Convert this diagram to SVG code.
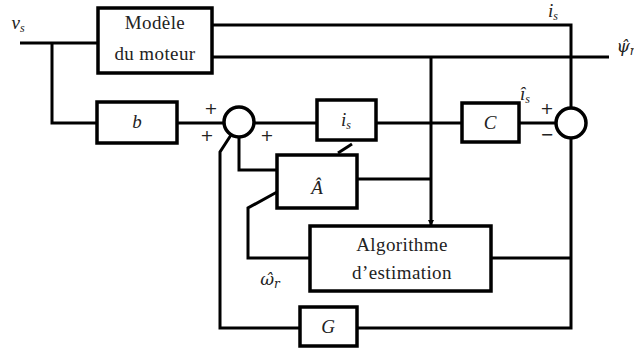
<svg xmlns="http://www.w3.org/2000/svg" width="634" height="352" viewBox="0 0 634 352">
<defs>
<style>
.box{fill:#fff;stroke:#000;stroke-width:3.5}
.ln{fill:none;stroke:#000;stroke-width:3;stroke-linejoin:miter}
text{font-family:'Liberation Serif','Times New Roman','DejaVu Serif',Times,serif;fill:#222;text-anchor:middle}
.t{font-size:19px;letter-spacing:0.4px}
.m{font-style:italic;font-size:19px}
.g{font-family:'DejaVu Serif',serif;font-style:italic;font-size:17px}
.s{font-size:12px}
.sg{font-family:'DejaVu Sans',sans-serif;font-size:16px}
</style>
<marker id="ah" markerWidth="6" markerHeight="6" refX="5" refY="3" orient="auto" markerUnits="userSpaceOnUse">
<path d="M0,0 L6,3 L0,6 z" fill="#000"/>
</marker>
</defs>
<rect width="634" height="352" fill="#fff"/>
<g id="connectors">
<path class="ln" d="M20,43 H98"/>
<path class="ln" d="M52,43 V123 H97"/>
<path class="ln" d="M177,123 H224"/>
<path class="ln" d="M254,123 H317"/>
<path class="ln" d="M376,123 H462"/>
<path class="ln" d="M519,123 H556"/>
<path class="ln" d="M212,25 H571 V108"/>
<path class="ln" d="M212,57 H609"/>
<path class="ln" d="M431,57 V225" marker-end="url(#ah)"/>
<path class="ln" d="M571,138 V328 H357"/>
<path class="ln" d="M491,258 H571"/>
<path class="ln" d="M357,179 H431"/>
<path class="ln" d="M239,137 V170 H277"/>
<path class="ln" d="M300,328 H220 V152 L231,135"/>
<path class="ln" d="M310,258 H248 V208 L277,192"/>
<path class="ln" d="M338,153 L352,144"/>
</g>
<g id="modele">
<rect class="box" x="98" y="8" width="114" height="65"/>
<text class="t" x="155" y="29">Modèle</text>
<text class="t" x="155" y="60">du moteur</text>
</g>
<g id="b">
<rect class="box" x="97" y="102" width="80" height="41"/>
<text class="m" x="137" y="128">b</text>
</g>
<g id="sum1">
<circle cx="239" cy="122" r="15" fill="#fff" stroke="#000" stroke-width="3.5"/>
<text class="sg" x="211" y="114">+</text>
<text class="sg" x="207" y="141">+</text>
<text class="sg" x="267" y="141">+</text>
</g>
<g id="is-box">
<rect class="box" x="317" y="100" width="59" height="40"/>
<text class="m" x="346" y="126">i<tspan class="s" dy="3">s</tspan></text>
</g>
<g id="C">
<rect class="box" x="462" y="103" width="57" height="39"/>
<text class="m" x="490" y="129">C</text>
</g>
<g id="sum2">
<circle cx="571" cy="123" r="15" fill="#fff" stroke="#000" stroke-width="3.5"/>
<text class="sg" x="547" y="114">+</text>
<text class="sg" x="547" y="140">−</text>
</g>
<g id="A">
<rect class="box" x="277" y="155" width="80" height="53"/>
<text class="m" x="317" y="194">Â</text>
</g>
<g id="algo">
<rect class="box" x="310" y="226" width="181" height="65"/>
<text class="t" x="402" y="251">Algorithme</text>
<text class="t" x="402" y="279">d’estimation</text>
</g>
<g id="G">
<rect class="box" x="300" y="307" width="57" height="39"/>
<text class="m" x="328" y="333">G</text>
</g>
<g id="labels">
<text class="m" x="18" y="29">v<tspan class="s" dy="3">s</tspan></text>
<text class="m" x="553" y="17">i<tspan class="s" dy="3">s</tspan></text>
<text class="m" x="525" y="100">î<tspan class="s" dy="3">s</tspan></text>
<text class="g" x="626" y="52">ψ̂<tspan class="s" dy="3">r</tspan></text>
<text class="g" x="270" y="285">ω̂<tspan class="s" dy="3">r</tspan></text>
</g>
</svg>
